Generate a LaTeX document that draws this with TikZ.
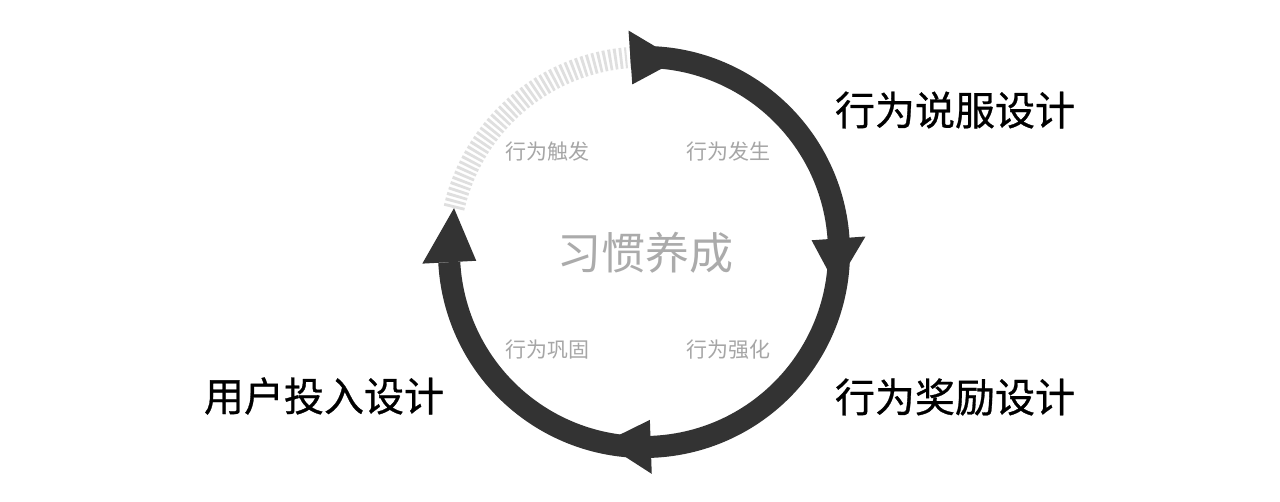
\documentclass[tikz,border=0pt]{standalone}
\usepackage{fontspec}
\newfontfamily\cjk{Noto Sans CJK SC}
\newfontfamily\cjkmed[FakeBold=0.7]{Noto Sans CJK SC}
\definecolor{arcdark}{HTML}{333333}
\definecolor{stripe}{HTML}{DFDFDF}
\definecolor{smallgray}{HTML}{A6A6A6}
\definecolor{biggray}{HTML}{ABABAB}
\tikzset{
  bigtext/.style={inner sep=0pt, font=\cjkmed\fontsize{40}{44}\selectfont, text=black},
  smalllabel/.style={inner sep=0pt, font=\cjk\fontsize{21}{24}\selectfont, text=smallgray},
  centerlabel/.style={inner sep=0pt, font=\cjk\fontsize{44}{48}\selectfont, text=biggray},
  darkarc/.style={draw=arcdark, line width=22pt, line cap=butt},
  stripearc/.style={draw=stripe, line width=21pt, dash pattern=on 2.8pt off 2.6pt},
  headfill/.style={fill=arcdark}
}
\begin{document}
\begin{tikzpicture}[x=1pt,y=-1pt]
\useasboundingbox[fill=white] (0,0) rectangle (1280,502);
\begin{scope}[shift={(644,252)}, yscale=-1]
  \draw[stripearc] (167:195) arc[start angle=167, end angle=95, radius=195];
  \draw[darkarc] (94:195) arc[start angle=94, end angle=-177, radius=195];
  \fill[headfill] (94:168) -- (94:222) -- (80:195) -- cycle;
  \fill[headfill] (4:168) -- (4:222) -- (-10:195) -- cycle;
  \fill[headfill] (-88:168) -- (-88:222) -- (-102:195) -- cycle;
  \fill[headfill] (183:168) -- (183:222) -- (167:195) -- cycle;
\end{scope}
\node[centerlabel] (habit) at (645,253) {习惯养成};
\node[smalllabel] (trigger) at (547,152) {行为触发};
\node[smalllabel] (occur) at (728,152) {行为发生};
\node[smalllabel] (consol) at (547,350) {行为巩固};
\node[smalllabel] (reinf) at (728,350) {行为强化};
\node[bigtext] (persuade) at (955,110) {行为说服设计};
\node[bigtext] (reward) at (955,397) {行为奖励设计};
\node[bigtext] (invest) at (324,396) {用户投入设计};
\end{tikzpicture}
\end{document}
